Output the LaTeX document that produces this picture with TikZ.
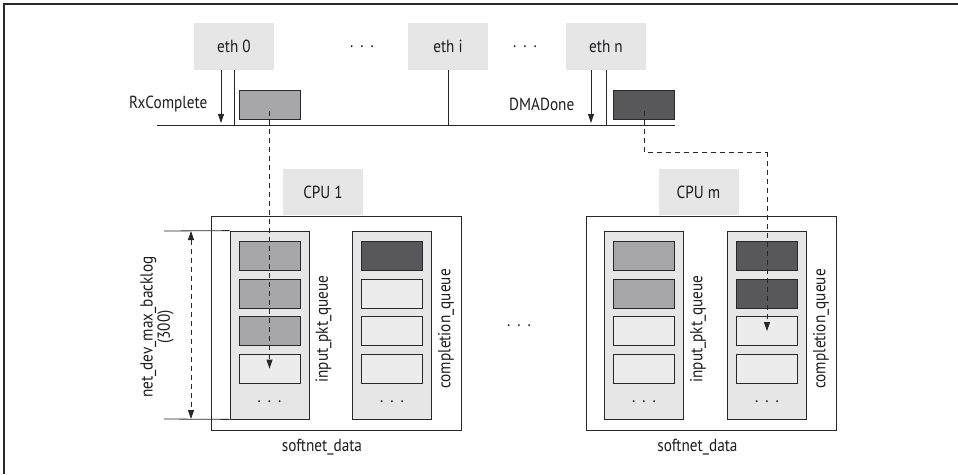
\documentclass[tikz,border=0pt]{standalone}
\usepackage{fontspec}
\setmainfont{PT Sans}[FakeStretch=0.87]
\definecolor{panel}{RGB}{230,230,231}
\definecolor{slot}{RGB}{236,236,237}
\definecolor{rxpkt}{RGB}{167,167,169}
\definecolor{txpkt}{RGB}{88,88,90}
\definecolor{edge}{RGB}{40,40,42}
\definecolor{ink}{RGB}{30,28,30}
\usetikzlibrary{arrows.meta,positioning,calc}

\begin{document}
\begin{tikzpicture}[x=1pt,y=-1pt,line width=0.8pt,draw=edge,text=ink,
    font=\fontsize{17.5}{18}\selectfont,
    tag/.style={fill=panel,minimum width=80pt,minimum height=47pt,inner sep=0pt},
    pkt/.style={draw=edge,minimum width=61pt,minimum height=29pt,inner sep=0pt},
    column/.style={draw=edge,fill=panel,minimum width=79pt,minimum height=188pt,inner sep=0pt},
    holder/.style={draw=edge,minimum height=214pt,inner sep=0pt},
    arrowed/.style={-{Triangle[width=6pt,length=9pt]}},
    flow/.style={dash pattern=on 5pt off 4pt}]
  \useasboundingbox (0,0) rectangle (958,474);
  \draw[line width=1.6pt] (4,474) -- (4,4) -- (958,4);

  % network devices on the bus
  \node[tag] (eth0) at (234,46.5) {eth 0};
  \node[tag] (ethi) at (448,46.5) {eth i};
  \node[tag] (ethn) at (606,46.5) {eth n};
  \node (dotsa) at (362,47) {.\hspace{7pt}.\hspace{7pt}.};
  \node (dotsb) at (525,47) {.\hspace{7pt}.\hspace{7pt}.};
  \coordinate (busL) at (157,125);
  \coordinate (busR) at (675,125);
  \draw (busL) -- (busR);
  \foreach \e in {eth0,ethi,ethn}
    \draw (\e.south) -- (\e.south |- busL);
  \coordinate (rx0) at ([xshift=-13pt]eth0.south);
  \coordinate (dman) at ([xshift=-15pt]ethn.south);
  \draw[arrowed] (rx0) -- ([yshift=2pt]rx0 |- busL);
  \draw[arrowed] (dman) -- ([yshift=2pt]dman |- busL);
  \node[anchor=east] (rxlbl) at (211,104) {RxComplete};
  \node[anchor=east] (dmalbl) at (578,104) {DMADone};
  \node[pkt,fill=rxpkt] (pkt0) at (269.5,104.5) {};
  \node[pkt,fill=txpkt] (pktn) at (644,104.5) {};

  % per-cpu softnet_data
  \foreach \n/\cx/\lbl in {1/336/CPU 1, m/711.5/CPU m} {
    \node[holder,minimum width=250pt] (sd\n) at (\cx,323) {};
    \node[tag,minimum height=46pt,anchor=south] (cpu\n) at ([xshift=-13pt]sd\n.north) {\lbl};
    \node (sdl\n) at ([xshift=-14pt,yshift=-17pt]sd\n.south) {softnet\_data};
  }
  \foreach \q/\cx/\lbl in {in1/269.5/input\_pkt\_queue, cq1/392/completion\_queue,
                           inm/644/input\_pkt\_queue, cqm/767/completion\_queue} {
    \node[column] (\q) at (\cx,325) {};
    \node[rotate=90] (\q lbl) at ([xshift=14pt,yshift=-4pt]\q.east) {\lbl};
    \node (\q dots) at (\cx,402) {.\hspace{7pt}.\hspace{7pt}.};
  }
  \foreach \q/\fa/\fb/\fc/\fd in {in1/rxpkt/rxpkt/rxpkt/slot, cq1/txpkt/slot/slot/slot,
                                  inm/rxpkt/rxpkt/slot/slot, cqm/txpkt/txpkt/slot/slot} {
    \foreach \i/\f in {1/\fa,2/\fb,3/\fc,4/\fd}
      \node[pkt,fill=\f] (\q-\i) at ($(\q.north)+(0,25.5+37.5*\i-37.5+0)$) {};
  }

  % packet paths
  \draw[flow,arrowed] ([yshift=-6pt]pkt0.center) -- (in1-4.center);
  \coordinate (bend) at (cqm-3.center |- 0,152);
  \draw[flow] ([yshift=-6pt]pktn.center) |- (bend);
  \draw[flow,arrowed] (bend) -- (cqm-3.center);

  % backlog limit
  \coordinate (lmtop) at (164,231);
  \coordinate (lmbot) at (164,419);
  \draw (lmtop) -- (in1.north west);
  \draw (lmbot) -- (in1.south west);
  \draw[flow,{Triangle[width=6pt,length=9pt]}-{Triangle[width=6pt,length=9pt]}]
    ([xshift=27pt]lmtop) -- ([xshift=27pt]lmbot);
  \node[rotate=90,align=center,font=\fontsize{17.5}{16}\selectfont] (backlog) at (157,327)
    {net\_dev\_max\_backlog\\(300)};
  \node (dotsc) at (519,326) {.\hspace{7pt}.\hspace{7pt}.};
\end{tikzpicture}
\end{document}
